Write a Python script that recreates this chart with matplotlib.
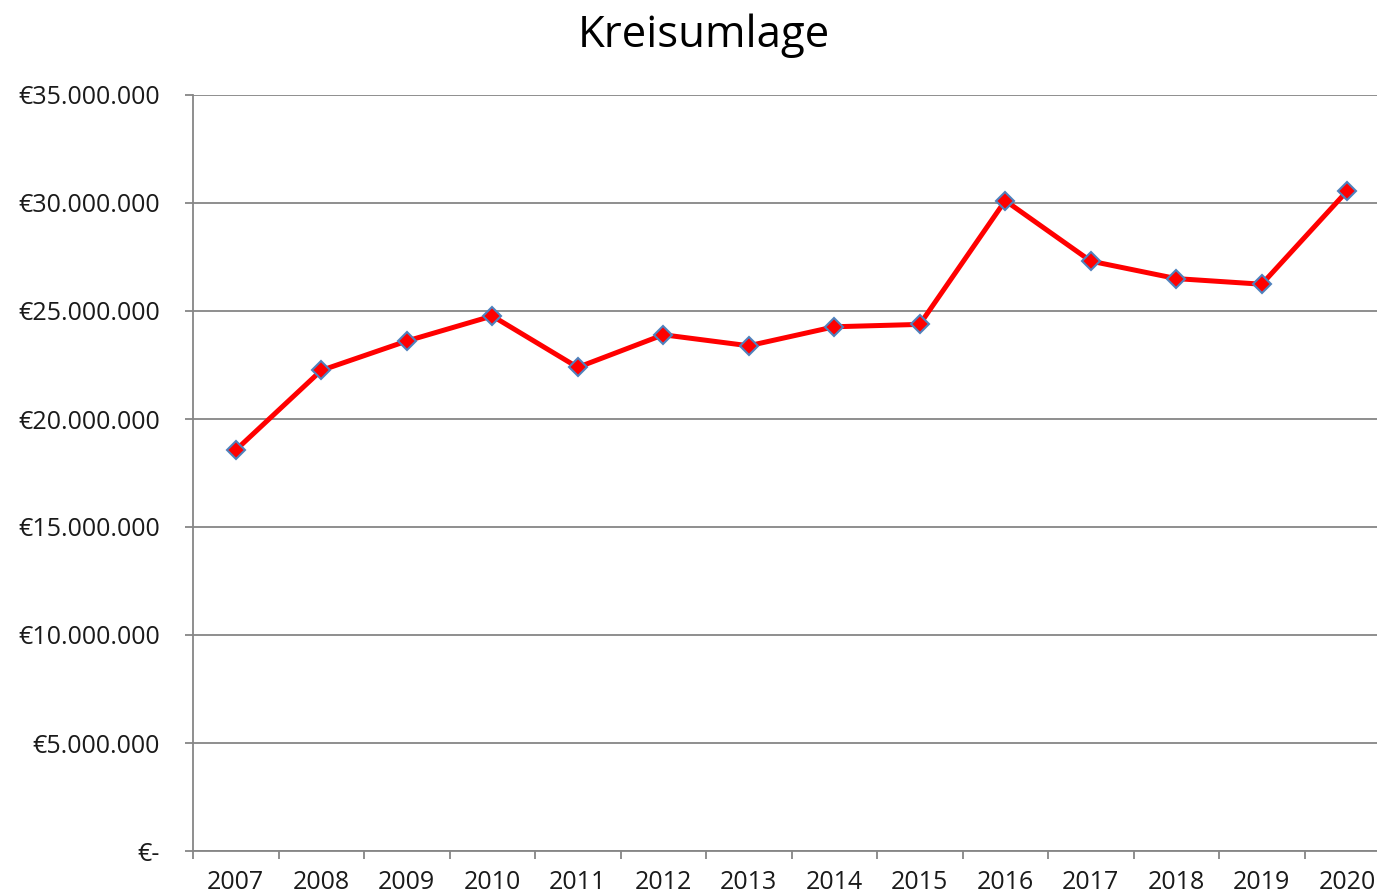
import matplotlib
matplotlib.use("Agg")
import matplotlib.pyplot as plt
from matplotlib.ticker import FuncFormatter, FixedLocator

years = ["2007", "2008", "2009", "2010", "2011", "2012", "2013",
         "2014", "2015", "2016", "2017", "2018", "2019", "2020"]
values = [18.56e6, 22.25e6, 23.61e6, 24.77e6, 22.39e6, 23.90e6, 23.39e6,
          24.27e6, 24.38e6, 30.11e6, 27.31e6, 26.50e6, 26.24e6, 30.56e6]
title = "Kreisumlage"

plt.rcParams['font.family'] = ['Open Sans', 'DejaVu Sans']

W, H = 1377, 896
fig = plt.figure(figsize=(W / 100, H / 100), dpi=100)
left, right, top, bottom = 193, 1390, 95, 851
ax = fig.add_axes([left / W, (H - bottom) / H, (right - left) / W, (bottom - top) / H])

x = list(range(len(years)))
ax.plot(x, values, color='#ff0000', lw=3.6, marker='D', ms=9.5,
        mfc='#ff0000', mec='#4f81bd', mew=1.5, zorder=3, clip_on=False)

ax.set_xlim(-0.5, len(years) - 0.5)
ax.set_ylim(0, 35e6)

grid_c = '#868686'
ax.set_yticks([i * 5e6 for i in range(8)])
ax.yaxis.set_major_formatter(FuncFormatter(
    lambda v, p: "€-" if v == 0 else "€" + f"{int(round(v)):,}".replace(",", ".")))
ax.grid(axis='y', color=grid_c, lw=1.3)
ax.set_axisbelow(True)

ax.xaxis.set_major_locator(FixedLocator([i - 0.5 for i in range(len(years) + 1)]))
ax.xaxis.set_major_formatter(FuncFormatter(lambda v, p: ""))
ax.xaxis.set_minor_locator(FixedLocator(x))
ax.set_xticklabels(years, minor=True)
ax.tick_params(axis='x', which='major', length=6, width=1.3, color=grid_c, direction='out')
ax.tick_params(axis='x', which='minor', length=0, pad=14, labelsize=18, labelcolor='#1a1a1a')
ax.tick_params(axis='y', length=6, width=1.3, color=grid_c, pad=18, labelsize=18,
               labelcolor='#1a1a1a')

for s in ['top', 'right']:
    ax.spines[s].set_visible(False)
for s in ['left', 'bottom']:
    ax.spines[s].set_color(grid_c)
    ax.spines[s].set_linewidth(1.3)

fig.text(704 / W, 1 - 36 / H, title, ha='center', va='center', fontsize=31.5, color='#000000')

fig.savefig("out.png", dpi=100)
